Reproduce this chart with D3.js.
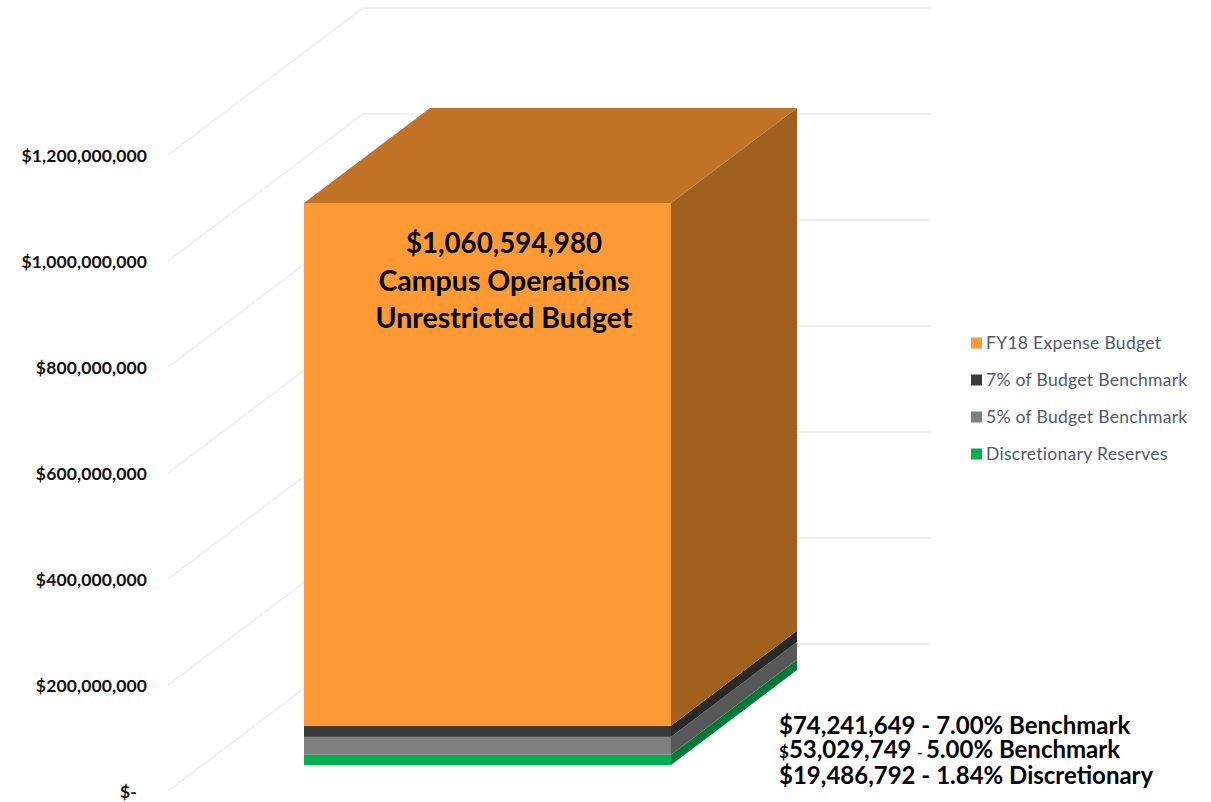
<!DOCTYPE html>
<html>
<head>
<meta charset="utf-8">
<script src="https://cdn.jsdelivr.net/npm/d3@7"></script>
<style>
  html, body { margin: 0; padding: 0; background: #fff; }
  svg { display: block; font-family: Lato, "Open Sans", sans-serif; }
</style>
</head>
<body>
<svg id="chart" width="1211" height="802"></svg>
<script>
// Cumulative levels of the single stacked column, bottom to top
const seriesNames = ["Discretionary Reserves", "5% of Budget Benchmark", "7% of Budget Benchmark", "FY18 Expense Budget"];
const seriesLevels = [19486792, 53029749, 74241649, 1060594980];
const frontColors = ["#00B050", "#7F7F7F", "#3B3B3B", "#FF9933"];
const sideColors = ["#007B38", "#585858", "#292929", "#A0611F"];
const topColor = "#C07225";
const tickValues = [0, 200000000, 400000000, 600000000, 800000000, 1000000000, 1200000000];
const legendOrder = [3, 2, 1, 0];
const centerLines = ["$1,060,594,980", "Campus Operations", "Unrestricted Budget"];

const svg = d3.select("#chart");
const domain = [0, 1200000000];

// The same value axis seen at three depths: chart front, column front, back wall
const yFloor = d3.scaleLinear().domain(domain).range([791, 155]);
const yWall = d3.scaleLinear().domain(domain).range([644, 8]);
const yColumn = d3.scaleLinear().domain(domain).range([765, 129]);

const wallLeft = 363, wallRight = 931, floorLeft = 168;
const columnLeft = 304, columnRight = 671;
const depthX = 126, depthY = 95;

const grid = svg.append("g").attr("fill", "none").attr("stroke", "#EAEAF0").attr("stroke-width", 1.4);
grid.selectAll("path").data(tickValues).join("path")
  .attr("d", d => `M${floorLeft},${yFloor(d)}L${wallLeft},${yWall(d)}L${wallRight},${yWall(d)}`);

// Tick labels come from a real axis on the floor scale, with its line removed
const axis = d3.axisLeft(yFloor)
  .tickValues(tickValues)
  .tickSize(0)
  .tickPadding(0)
  .tickFormat(d => d === 0 ? "$-" : "$" + d3.format(",")(d));
const axisG = svg.append("g").attr("transform", "translate(147,1)").call(axis);
axisG.select(".domain").remove();
axisG.selectAll("text")
  .attr("font-family", "Lato, sans-serif")
  .attr("font-size", 17.5)
  .attr("letter-spacing", 0.12)
  .attr("font-weight", 700)
  .attr("fill", "#111")
  // The accounting format leaves a gap after the zero label's dash
  .attr("dx", d => d === 0 ? -10 : 0);

// Column faces built from each segment's lower and upper level
const segments = seriesLevels.map((v, i) => ({ lo: i ? seriesLevels[i - 1] : 0, hi: v, i }));
const column = svg.append("g");
column.selectAll("rect.front").data(segments).join("rect")
  .attr("class", "front")
  .attr("x", columnLeft)
  .attr("width", columnRight - columnLeft)
  .attr("y", d => yColumn(d.hi))
  .attr("height", d => yColumn(d.lo) - yColumn(d.hi))
  .attr("fill", d => frontColors[d.i]);
column.selectAll("path.side").data(segments).join("path")
  .attr("class", "side")
  .attr("d", d => {
    const a = yColumn(d.lo), b = yColumn(d.hi);
    return `M${columnRight},${a}L${columnRight + depthX},${a - depthY}L${columnRight + depthX},${b - depthY}L${columnRight},${b}Z`;
  })
  .attr("fill", d => sideColors[d.i]);
const topY = yColumn(seriesLevels[3]);
column.append("path")
  .attr("d", `M${columnLeft},${topY}L${columnLeft + depthX},${topY - depthY}L${columnRight + depthX},${topY - depthY}L${columnRight},${topY}Z`)
  .attr("fill", topColor);

// Label on the column front
svg.append("g").attr("text-anchor", "middle").attr("font-weight", 700).attr("fill", "#000")
  .selectAll("text").data(centerLines).join("text")
  .attr("x", 504)
  .attr("y", (d, i) => 253 + i * 37.5)
  .attr("font-size", (d, i) => i ? 28.5 : 27.7)
  .text(d => d);

// Value callouts beside the column base
const callouts = svg.append("g").attr("font-weight", 700).attr("font-size", 24).attr("fill", "#000");
callouts.append("text").attr("x", 779).attr("y", 734).text("$74,241,649 - 7.00% Benchmark");
const mid = callouts.append("text").attr("x", 779).attr("y", 758);
mid.append("tspan").attr("font-size", 17).text("$");
mid.append("tspan").text("53,029,749 ");
mid.append("tspan").attr("font-size", 14).text("- ");
mid.append("tspan").text("5.00% Benchmark");
callouts.append("text").attr("x", 779).attr("y", 784).text("$19,486,792 - 1.84% Discretionary");

// Legend
const legendY = d3.scalePoint().domain(legendOrder).range([343, 454]);
const legend = svg.append("g").selectAll("g").data(legendOrder).join("g")
  .attr("transform", d => `translate(971,${legendY(d)})`);
legend.append("rect").attr("y", -5.5).attr("width", 11).attr("height", 11).attr("fill", d => frontColors[d]);
legend.append("text").attr("x", 15).attr("y", 6)
  .attr("font-size", 17.5).attr("fill", "#505A6E").attr("letter-spacing", 0.3)
  .text(d => seriesNames[d]);
</script>
</body>
</html>
